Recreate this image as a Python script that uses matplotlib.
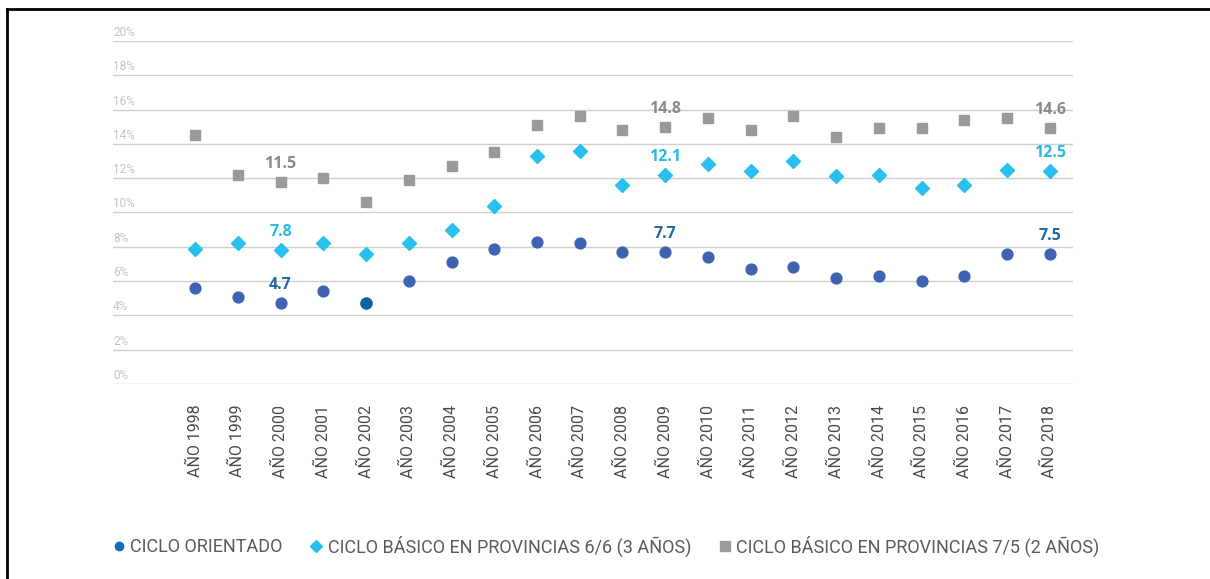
import matplotlib.pyplot as plt
from matplotlib.lines import Line2D
import numpy as np

plt.rcParams['font.family'] = ['Roboto', 'DejaVu Sans']

years = [f"AÑO {y}" for y in range(1998, 2019)]

# CICLO ORIENTADO
orientado = [5.6, 5.1, 4.7, 5.4, 4.7, 6.0, 7.1, 7.9, 8.3, 8.2, 7.7,
             7.7, 7.4, 6.7, 6.8, 6.2, 6.3, 6.0, 6.3, 7.6, 7.6]
# CICLO BASICO 6/6 (3 AÑOS)
basico_66 = [7.9, 8.2, 7.8, 8.2, 7.6, 8.2, 9.0, 10.4, 13.3, 13.6, 11.6,
             12.2, 12.8, 12.4, 13.0, 12.1, 12.2, 11.4, 11.6, 12.5, 12.4]
# CICLO BASICO 7/5 (2 AÑOS)
basico_75 = [14.5, 12.2, 11.8, 12.0, 10.6, 11.9, 12.7, 13.5, 15.1, 15.6, 14.8,
             15.0, 15.5, 14.8, 15.6, 14.4, 14.9, 14.9, 15.4, 15.5, 14.9]

# annotated values (index, text)
labels_orientado = [(2, "4.7"), (11, "7.7"), (20, "7.5")]
labels_66 = [(2, "7.8"), (11, "12.1"), (20, "12.5")]
labels_75 = [(2, "11.5"), (11, "14.8"), (20, "14.6")]

c_blue = '#3f62b3'
c_blue_dark = '#0b64a2'
c_cyan = '#29bfee'
c_gray = '#9a9a9a'

fig = plt.figure(figsize=(12.1, 5.79), dpi=100)
ax = fig.add_axes([113/1210, 1 - 384/579, (1073 - 113)/1210, (384 - 41)/579])

x = np.arange(len(years))

ax.plot(x, basico_75, 's', ms=7.8, color=c_gray, ls='none', zorder=3)
ax.plot(x, basico_66, 'D', ms=7.5, color=c_cyan, ls='none', zorder=3)
ax.plot(x, orientado, 'o', ms=7.8, color=c_blue, ls='none', zorder=3)
# 2002 point drawn darker
ax.plot(x[4], orientado[4], 'o', ms=7.8, color=c_blue_dark, zorder=4)

for series, labs, col in [(orientado, labels_orientado, '#2169a6'),
                          (basico_66, labels_66, '#2ab8ea'),
                          (basico_75, labels_75, '#8a8a8a')]:
    for i, t in labs:
        ax.annotate(t, (x[i], series[i]), xytext=(0, 13), textcoords='offset points',
                    ha='center', va='center', fontsize=11.5, fontweight='bold',
                    color=col, family=['Open Sans', 'DejaVu Sans'])

ax.set_xlim(-1.92, 20.54)
ax.set_ylim(0, 20)

# grid lines and y labels
for v in range(0, 21, 2):
    ax.axhline(v, color='#cfcfcf', lw=1, zorder=1)
    ax.text(0.0, v + 0.12, f"{v}%", transform=ax.get_yaxis_transform(),
            ha='left', va='bottom', fontsize=8.5, color='#c4c4c4')

ax.set_yticks([])
ax.set_xticks(x)
ax.set_xticklabels(years, rotation=90, fontsize=11.5, color='#4a4a4a')
ax.tick_params(axis='x', length=0, pad=15)
for s in ax.spines.values():
    s.set_visible(False)

handles = [
    Line2D([], [], marker='o', ls='none', ms=6, color='#0f6fbf'),
    Line2D([], [], marker='D', ls='none', ms=6, color=c_cyan),
    Line2D([], [], marker='s', ls='none', ms=7, color=c_gray),
]
names = ["CICLO ORIENTADO", "CICLO BÁSICO EN PROVINCIAS 6/6 (3 AÑOS)",
         "CICLO BÁSICO EN PROVINCIAS 7/5 (2 AÑOS)"]
fig.legend(handles, names, loc='center left', bbox_to_anchor=(97/1210, 1 - 546/579),
           ncol=3, frameon=False, handlelength=0.6, handletextpad=0.35,
           columnspacing=1.55, prop={'size': 13}, labelcolor='#5a5a5a')

# frame lines of the original image
fig.add_artist(Line2D([7/1210, 7/1210], [0, 1 - 9/579], color='black', lw=2))
fig.add_artist(Line2D([7/1210, 1], [1 - 9/579, 1 - 9/579], color='black', lw=2))

plt.savefig('out.png', dpi=100)
